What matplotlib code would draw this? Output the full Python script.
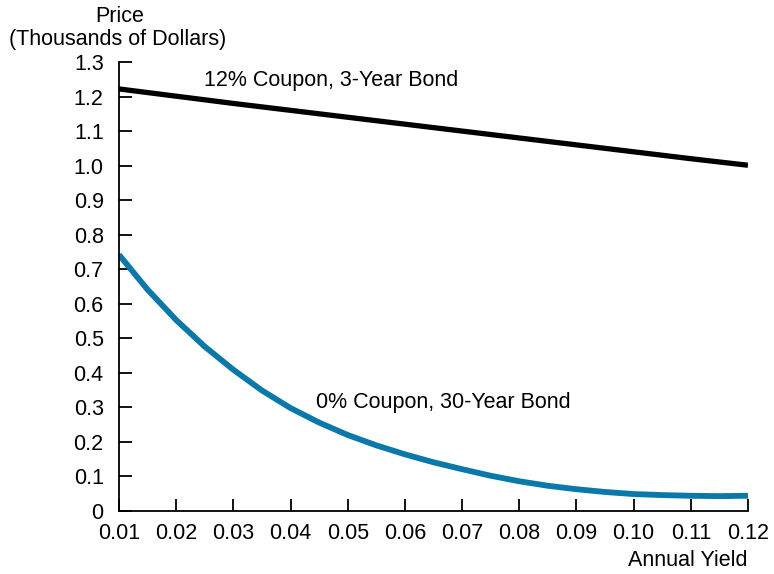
import matplotlib.pyplot as plt

plt.rcParams['font.family'] = ['Liberation Sans', 'DejaVu Sans']

# 12% coupon, 3-year bond (thousands of dollars)
yields_3yr = [0.01, 0.02, 0.03, 0.04, 0.05, 0.06, 0.07, 0.08, 0.09, 0.10, 0.11, 0.12]
price_3yr = [1.222, 1.201, 1.180, 1.160, 1.140, 1.120, 1.100, 1.080, 1.060, 1.040, 1.020, 1.001]

# 0% coupon, 30-year bond (thousands of dollars), read every half point
yields_30yr = [0.010, 0.015, 0.020, 0.025, 0.030, 0.035, 0.040, 0.045, 0.050, 0.055,
               0.060, 0.065, 0.070, 0.075, 0.080, 0.085, 0.090, 0.095, 0.100, 0.105,
               0.110, 0.115, 0.120]
price_30yr = [0.742, 0.641, 0.553, 0.476, 0.409, 0.349, 0.298, 0.256, 0.220, 0.190,
              0.164, 0.141, 0.121, 0.102, 0.086, 0.073, 0.063, 0.055, 0.049, 0.046,
              0.044, 0.043, 0.044]

xticks = [0.01, 0.02, 0.03, 0.04, 0.05, 0.06, 0.07, 0.08, 0.09, 0.10, 0.11, 0.12]
xtick_labels = ['%.2f' % v for v in xticks]
yticks = [0, 0.1, 0.2, 0.3, 0.4, 0.5, 0.6, 0.7, 0.8, 0.9, 1.0, 1.1, 1.2, 1.3]
ytick_labels = ['0'] + ['%.1f' % v for v in yticks[1:]]

fig = plt.figure(figsize=(7.74, 5.74), dpi=100)
ax = fig.add_axes([0.1537, 0.1098, 0.8127, 0.7822])

ax.plot(yields_3yr, price_3yr, color='black', lw=3.8, solid_capstyle='butt')
ax.plot(yields_30yr, price_30yr, color='#0a78a8', lw=4.2,
        solid_capstyle='butt', solid_joinstyle='round')

ax.set_xlim(0.01, 0.12)
ax.set_ylim(0, 1.3)
ax.set_xticks(xticks)
ax.set_xticklabels(xtick_labels)
ax.set_yticks(yticks)
ax.set_yticklabels(ytick_labels)

for s in ['top', 'right']:
    ax.spines[s].set_visible(False)
for s in ['left', 'bottom']:
    ax.spines[s].set_linewidth(1.3)
ax.tick_params(axis='both', direction='in', length=9, width=1.3, labelsize=15.5)
ax.tick_params(axis='x', pad=9)
ax.tick_params(axis='y', pad=11)

ax.text(0.0249, 1.246, '12% Coupon, 3-Year Bond', fontsize=15.5, va='center')
ax.text(0.0444, 0.313, '0% Coupon, 30-Year Bond', fontsize=15.5, va='center')

fig.text(120 / 774, 1 - 16 / 574, 'Price', fontsize=15.5, ha='center', va='center')
fig.text(118 / 774, 1 - 40 / 574, '(Thousands of Dollars)', fontsize=15.5, ha='center', va='center')
fig.text(748 / 774, 1 - 560 / 574, 'Annual Yield', fontsize=15.5, ha='right', va='center')

fig.savefig('out.png', dpi=100)
